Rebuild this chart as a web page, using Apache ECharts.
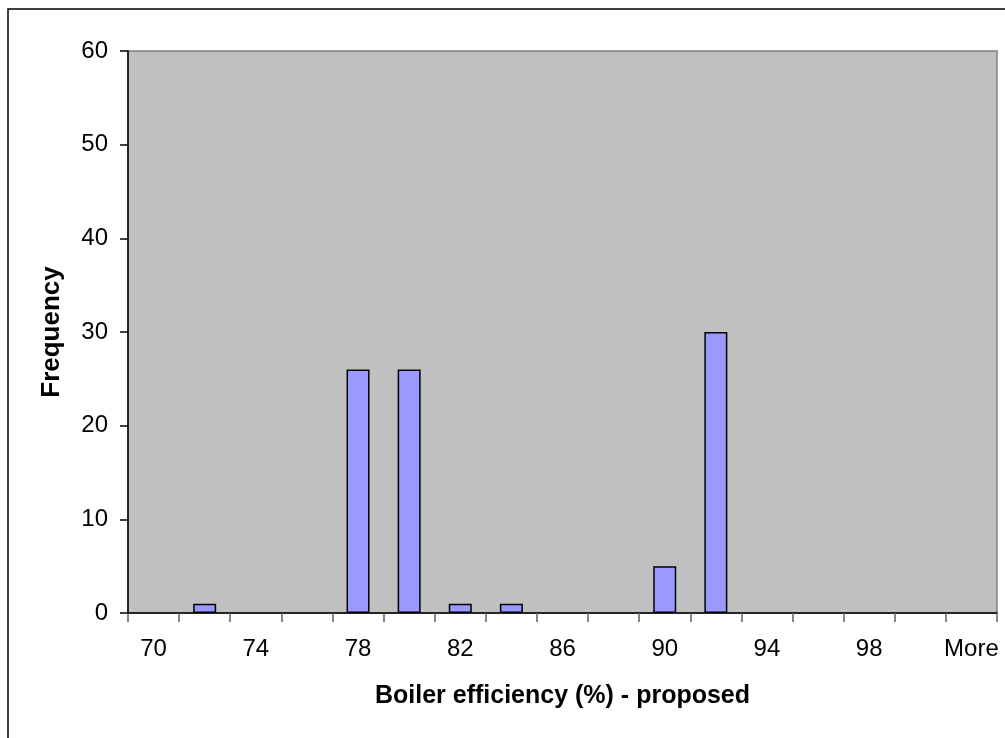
<!DOCTYPE html>
<html>
<head>
<meta charset="utf-8">
<script src="https://cdn.jsdelivr.net/npm/echarts@6/dist/echarts.min.js"></script>
<style>html,body{margin:0;padding:0;background:#fff}#c{width:1005px;height:738px}</style>
</head>
<body>
<div id="c"></div>
<script>
const categories = ['70','72','74','76','78','80','82','84','86','88','90','92','94','96','98','100','More'];
const frequency = [0,1,0,0,26,26,1,1,0,0,5,30,0,0,0,0,0];
const yTicks = { min: 0, max: 60, interval: 10 };
const xTitle = 'Boiler efficiency (%) - proposed';
const yTitle = 'Frequency';

const FONT = 'Liberation Sans, Arial, sans-serif';

const chart = echarts.init(document.getElementById('c'));
chart.setOption({
  animation: false,
  backgroundColor: '#fff',
  textStyle: { fontFamily: FONT },
  graphic: [{
    type: 'rect', z: -1, silent: true,
    shape: { x: 8, y: 9, width: 1020, height: 760 },
    style: { fill: 'none', stroke: '#000', lineWidth: 1.5 }
  }],
  grid: {
    left: 128, top: 51, right: 8, bottom: 125,
    show: true, backgroundColor: '#C0C0C0', borderColor: '#808080', borderWidth: 1.5
  },
  xAxis: [{
    type: 'category', data: categories, boundaryGap: true, position: 'bottom',
    name: xTitle, nameLocation: 'middle', nameGap: 71,
    nameTextStyle: { fontSize: 25, fontWeight: 'bold', color: '#000', fontFamily: FONT },
    axisLine: { lineStyle: { color: '#000', width: 1.5 } },
    axisTick: { show: true, interval: 0, length: 9, lineStyle: { color: '#606060', width: 1.5 } },
    axisLabel: { interval: 1, fontSize: 24, color: '#000', margin: 24, fontFamily: FONT },
    splitLine: { show: false }
  }],
  yAxis: [{
    type: 'value', min: yTicks.min, max: yTicks.max, interval: yTicks.interval, position: 'left',
    name: yTitle, nameLocation: 'middle', nameGap: 63, nameRotate: 90,
    nameTextStyle: { fontSize: 26, fontWeight: 'bold', color: '#000', fontFamily: FONT },
    axisLine: { show: true, lineStyle: { color: '#000', width: 1.5 } },
    axisTick: { show: true, length: 8, lineStyle: { color: '#000', width: 1.5 } },
    axisLabel: { fontSize: 24, color: '#000', margin: 20, fontFamily: FONT },
    splitLine: { show: false }
  }],
  series: [{
    type: 'bar', xAxisIndex: 0, yAxisIndex: 0,
    data: frequency.map(v => (v === 0 ? null : v)), barWidth: '45%',
    itemStyle: { color: '#9999FF', borderColor: '#000', borderWidth: 1.5 }
  }]
});
</script>
</body>
</html>
